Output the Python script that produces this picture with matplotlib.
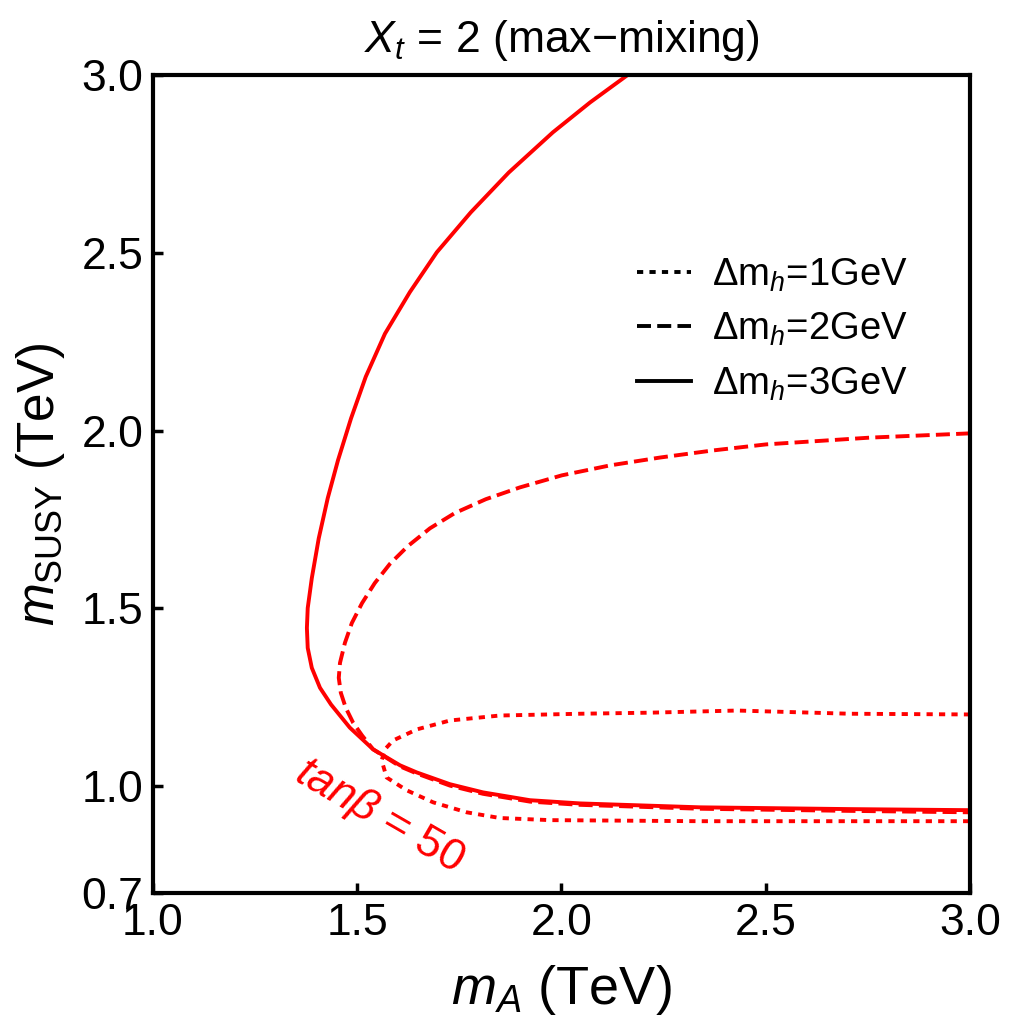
import matplotlib
matplotlib.use("Agg")
import matplotlib.pyplot as plt
from matplotlib.lines import Line2D

plt.rcParams['font.family'] = ['Liberation Sans', 'DejaVu Sans']
plt.rcParams['mathtext.fontset'] = 'custom'
plt.rcParams['mathtext.rm'] = 'Liberation Sans'
plt.rcParams['mathtext.it'] = 'Liberation Sans:italic'
plt.rcParams['mathtext.bf'] = 'Liberation Sans:bold'

# contour for delta m_h = 3 GeV (solid)
mA_3 = [2.163, 2.070, 1.979, 1.871, 1.778, 1.695, 1.629, 1.568, 1.521, 1.485,
        1.453, 1.428, 1.406, 1.389, 1.379, 1.377, 1.379, 1.389, 1.409, 1.436,
        1.482, 1.539, 1.605, 1.646, 1.727, 1.808, 1.923, 2.045, 2.339, 2.706,
        3.000]
ms_3 = [3.000, 2.922, 2.838, 2.725, 2.613, 2.501, 2.389, 2.272, 2.151, 2.034,
        1.916, 1.810, 1.697, 1.585, 1.501, 1.445, 1.389, 1.333, 1.277, 1.230,
        1.165, 1.104, 1.059, 1.039, 1.006, 0.983, 0.961, 0.952, 0.941, 0.936,
        0.933]

# contour for delta m_h = 2 GeV (dashed)
mA_2 = [3.000, 2.755, 2.501, 2.371, 2.241, 2.119, 2.001, 1.898, 1.815, 1.739,
        1.678, 1.624, 1.580, 1.543, 1.512, 1.487, 1.470, 1.458, 1.455, 1.460,
        1.472, 1.490, 1.512, 1.539, 1.605, 1.646, 1.727, 1.808, 1.923, 2.045,
        2.339, 2.706, 3.000]
ms_2 = [1.992, 1.980, 1.961, 1.944, 1.924, 1.902, 1.874, 1.840, 1.807, 1.768,
        1.725, 1.675, 1.625, 1.571, 1.515, 1.459, 1.403, 1.347, 1.305, 1.263,
        1.221, 1.179, 1.143, 1.104, 1.056, 1.036, 1.002, 0.979, 0.957, 0.948,
        0.937, 0.931, 0.927]

# contour for delta m_h = 1 GeV (dotted)
mA_1 = [3.000, 2.706, 2.430, 2.217, 2.045, 1.849, 1.727, 1.646, 1.588, 1.568,
        1.560, 1.572, 1.621, 1.686, 1.768, 1.849, 1.972, 2.339, 3.000]
ms_1 = [1.202, 1.204, 1.213, 1.207, 1.204, 1.199, 1.185, 1.160, 1.129, 1.104,
        1.073, 1.025, 0.989, 0.955, 0.927, 0.911, 0.905, 0.902, 0.902]

labels = [r'$\Delta$m$_{h}$=1GeV', r'$\Delta$m$_{h}$=2GeV', r'$\Delta$m$_{h}$=3GeV']
xticks = [1.0, 1.5, 2.0, 2.5, 3.0]
yticks = [0.7, 1.0, 1.5, 2.0, 2.5, 3.0]

red = (1, 0, 0)
dotted = (0, (1.6, 1.6))
dashed = (0, (3.6, 1.6))
lw = 2.8

fig = plt.figure(figsize=(10.19, 10.23), dpi=100)
ax = fig.add_axes([0.150, 0.127, 0.802, 0.800])

ax.plot(mA_1, ms_1, color=red, lw=lw, linestyle=dotted)
ax.plot(mA_2, ms_2, color=red, lw=lw, linestyle=dashed)
ax.plot(mA_3, ms_3, color=red, lw=lw, linestyle='-')

ax.set_xlim(1.0, 3.0)
ax.set_ylim(0.7, 3.0)
ax.set_xticks(xticks)
ax.set_yticks(yticks)
ax.set_xticklabels(['%.1f' % t for t in xticks])
ax.set_yticklabels(['%.1f' % t for t in yticks])
ax.tick_params(direction='in', length=7, width=2.5, labelsize=32, pad=7,
               top=False, right=False)
for s in ax.spines.values():
    s.set_linewidth(3)

ax.set_xlabel(r'$m_A$ (TeV)', fontsize=39, labelpad=14)
ax.set_ylabel(r'$m_{\mathrm{SUSY}}$ (TeV)', fontsize=37, labelpad=10)
ax.set_title(r'$X_t$ = 2 (max$-$mixing)', fontsize=32, pad=16)

ax.text(1.556, 0.915, r'$tan\beta$ = 50', color=red, fontsize=32,
        rotation=-30, ha='center', va='center', rotation_mode='anchor')

handles = [Line2D([], [], color='black', lw=lw, linestyle=dotted),
           Line2D([], [], color='black', lw=lw, linestyle=dashed),
           Line2D([], [], color='black', lw=lw, linestyle='-')]
ax.legend(handles, labels, loc='upper left', bbox_to_anchor=(0.592, 0.778),
          frameon=False, fontsize=27.5, borderpad=0, borderaxespad=0,
          handlelength=1.41, handletextpad=0.55, labelspacing=0.45)

fig.savefig('out.png', dpi=100)
